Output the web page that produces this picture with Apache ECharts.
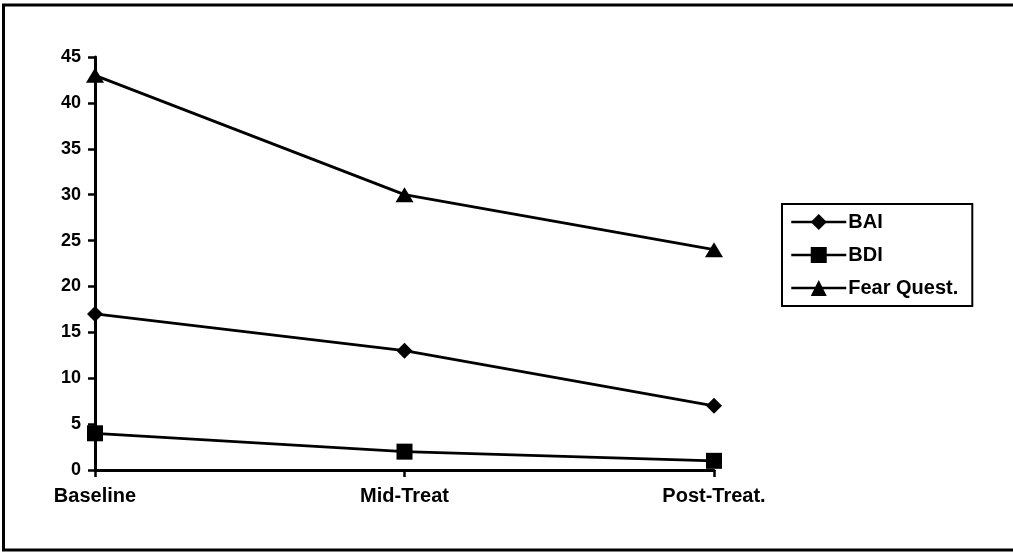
<!DOCTYPE html>
<html>
<head>
<meta charset="utf-8">
<script src="https://cdn.jsdelivr.net/npm/echarts@6/dist/echarts.min.js"></script>
<style>
  html, body { margin: 0; padding: 0; background: #fff; }
  #chart { width: 1013px; height: 552px; }
</style>
</head>
<body>
<div id="chart"></div>
<script>
// Assessment points along the treatment
const categories = ['Baseline', 'Mid-Treat', 'Post-Treat.'];

// Scores per questionnaire
const baiValues = [17, 13, 7];
const bdiValues = [4, 2, 1];
const fearValues = [43, 30, 24];

// Value axis range
const yMin = 0;
const yMax = 45;
const yStep = 5;

const FONT = '"Liberation Sans", Arial, Helvetica, sans-serif';

const chart = echarts.init(document.getElementById('chart'), null, { renderer: 'canvas' });

function lineSeries(name, data, symbol, size) {
  return {
    name: name,
    type: 'line',
    data: data,
    symbol: symbol,
    symbolSize: size,
    showAllSymbol: true,
    lineStyle: { color: '#000', width: 2.8 },
    itemStyle: { color: '#000', borderWidth: 0 },
    emphasis: { disabled: true },
    animation: false
  };
}

chart.setOption({
  backgroundColor: '#fff',
  animation: false,
  graphic: [{
    type: 'rect',
    shape: { x: 3.5, y: 5, width: 1013, height: 545 },
    style: { fill: 'none', stroke: '#000', lineWidth: 3 },
    silent: true
  }],
  grid: { left: 95, right: 299, top: 57, bottom: 82, containLabel: false },
  legend: {
    orient: 'vertical',
    left: 782,
    top: 204,
    padding: [8, 14, 8, 8],
    itemWidth: 55,
    itemHeight: 20,
    itemGap: 13,
    borderColor: '#000',
    borderWidth: 2,
    backgroundColor: '#fff',
    lineStyle: { color: '#000', width: 2.5 },
    textStyle: { fontFamily: FONT, fontWeight: 'bold', fontSize: 20, color: '#000', padding: [0, 0, 0, -3] },
    data: ['BAI', 'BDI', 'Fear Quest.']
  },
  xAxis: {
    type: 'category',
    data: categories,
    boundaryGap: false,
    axisLine: { lineStyle: { color: '#000', width: 3 } },
    axisTick: { alignWithLabel: true, length: 7, lineStyle: { color: '#000', width: 2.5 } },
    axisLabel: { fontFamily: FONT, fontWeight: 'bold', fontSize: 20, color: '#000', margin: 16 },
    splitLine: { show: false }
  },
  yAxis: {
    type: 'value',
    min: yMin,
    max: yMax,
    interval: yStep,
    axisLine: { show: true, lineStyle: { color: '#000', width: 3 } },
    axisTick: { show: true, length: 7, lineStyle: { color: '#000', width: 2.5 } },
    axisLabel: { fontFamily: FONT, fontWeight: 'bold', fontSize: 18, color: '#000', margin: 14 },
    splitLine: { show: false }
  },
  series: [
    lineSeries('BAI', baiValues, 'diamond', [16, 16]),
    lineSeries('BDI', bdiValues, 'rect', [16, 16]),
    lineSeries('Fear Quest.', fearValues, 'triangle', [18, 15])
  ]
});
</script>
</body>
</html>
